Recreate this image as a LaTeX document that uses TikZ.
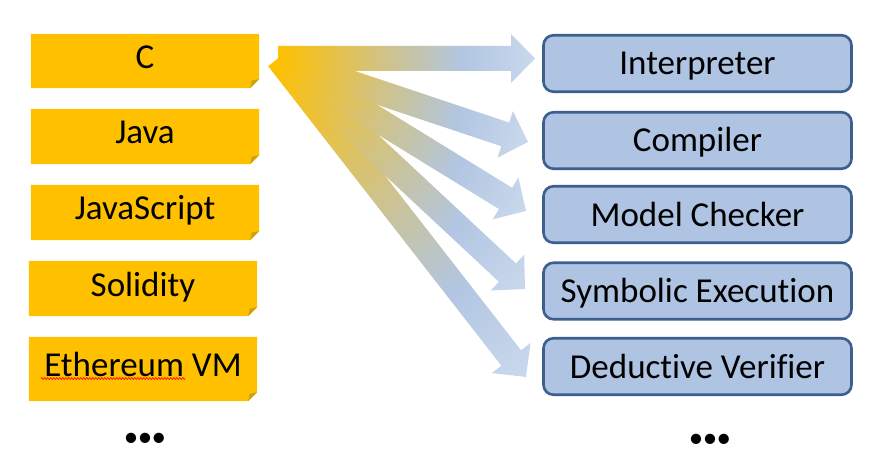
\documentclass[tikz,border=0pt]{standalone}
\usepackage{fontspec}
\setmainfont{Carlito}[Ligatures=NoCommon]
\usetikzlibrary{backgrounds,decorations.pathmorphing}
\definecolor{gold}{HTML}{FFC000}
\definecolor{golddark}{HTML}{CFA010}
\definecolor{boxblue}{HTML}{AEC4E2}
\definecolor{boxline}{HTML}{3C5F8E}
\definecolor{arO}{HTML}{FFC000}
\definecolor{arT}{HTML}{CCC394}
\definecolor{arB}{HTML}{B2C6E2}
\definecolor{arL}{HTML}{C9D8EC}
\pgfdeclarehorizontalshading{arrowshade}{100bp}{color(0bp)=(arO); color(25bp)=(arO); color(47.5bp)=(arT); color(61bp)=(arB); color(75bp)=(arL); color(100bp)=(arL)}
\newcommand\gradarrow[2]{%
  \pgfpointanchor{#1}{center}\pgfgetlastxy{\gaAx}{\gaAy}%
  \pgfpointanchor{#2}{center}\pgfgetlastxy{\gaBx}{\gaBy}%
  \pgfmathsetmacro\gaAng{atan2(\gaBy-\gaAy,\gaBx-\gaAx)}%
  \pgfmathsetmacro\gaLen{veclen(\gaBx-\gaAx,\gaBy-\gaAy)}%
  \begin{scope}[transform canvas={shift={(\gaAx,\gaAy)},rotate=\gaAng}]
    \shade[shading=arrowshade] (0pt,-12.5pt) -- (\gaLen pt-24pt,-12.5pt) -- (\gaLen pt-24pt,-24.5pt) -- (\gaLen pt,0pt) -- (\gaLen pt-24pt,24.5pt) -- (\gaLen pt-24pt,12.5pt) -- (0pt,12.5pt) -- cycle;
  \end{scope}}
\begin{document}
\begin{tikzpicture}[x=1pt,y=-1pt,
  langbox/.style={minimum width=228pt, minimum height=55pt, inner sep=0pt, text height=23pt, text depth=8pt, font=\fontsize{35}{40}\selectfont},
  toolbox/.style={draw=boxline, fill=boxblue, line width=2.6pt, rounded corners=10pt, minimum width=308pt, minimum height=56.5pt, inner sep=0pt, text height=24pt, text depth=1pt, font=\fontsize{35}{40}\selectfont},
  dotstext/.style={font=\fontsize{29}{32}\selectfont, inner sep=0pt, anchor=base}]
\useasboundingbox (0,0) rectangle (879,468);
% source languages
\node[langbox, minimum height=54pt] (c) at (145,61) {C};
\node[langbox] (java) at (145,136.5) {Java};
\node[langbox] (js) at (145,212.5) {JavaScript};
\node[langbox] (sol) at (143,288.5) {Solidity};
\node[langbox, minimum height=64pt] (evm) at (143,369) {Ethereum VM};
\begin{scope}[on background layer]
\foreach \n in {c,java,js,sol,evm}{
  \fill[gold] (\n.north west) -- (\n.north east) -- ([yshift=9pt]\n.south east) -- ([xshift=-9pt]\n.south east) -- (\n.south west) -- cycle;
  \fill[golddark] ([yshift=9pt]\n.south east) -- ([xshift=-9pt]\n.south east) -- ([shift={(-7.5pt,7.5pt)}]\n.south east) -- cycle;
}
\end{scope}
\draw[red, line width=0.7pt, decorate, decoration={zigzag, amplitude=0.9pt, segment length=3pt}] (41,378.5) -- (185,378.5);
% tools
\node[toolbox] (interp) at (697.5,63.5) {Interpreter};
\node[toolbox] (comp) at (697.5,140.5) {Compiler};
\node[toolbox] (mc) at (697.5,214.5) {Model Checker};
\node[toolbox] (symb) at (697.5,291) {Symbolic Execution};
\node[toolbox] (ded) at (697.5,366.5) {Deductive Verifier};
% dots
\node[dotstext] (ldots) at (145,446.5) {•\kern-0.5pt•\kern-0.5pt•};
\node[dotstext] (rdots) at (710,447.5) {•\kern-0.5pt•\kern-0.5pt•};
% arrows
\coordinate (src) at (278,58.5);
\coordinate (t1) at (535,58.5);
\coordinate (t2) at (528,142);
\coordinate (t3) at (526,211);
\coordinate (t4) at (525,289);
\coordinate (t5) at (526,377);
\gradarrow{src}{t5}
\gradarrow{src}{t4}
\gradarrow{src}{t3}
\gradarrow{src}{t2}
\gradarrow{src}{t1}
\end{tikzpicture}
\end{document}
